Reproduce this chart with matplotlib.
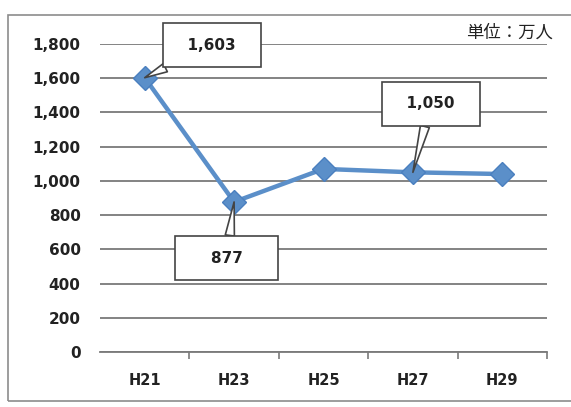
import matplotlib.pyplot as plt
from matplotlib.patches import Rectangle

# data
years = ['H21', 'H23', 'H25', 'H27', 'H29']
visitors = [1603, 877, 1070, 1050, 1040]
y_ticks = [0, 200, 400, 600, 800, 1000, 1200, 1400, 1600, 1800]
callouts = {0: '1,603', 1: '877', 3: '1,050'}

plt.rcParams['font.family'] = ['DejaVu Sans', 'Noto Sans CJK JP']

fig = plt.figure(figsize=(5.71, 4.07), dpi=100)
fig.patch.set_facecolor('white')
# outer chart frame
fig.patches.append(Rectangle((8 / 571, 1 - 401 / 407), 570 / 571, 386 / 407,
                             transform=fig.transFigure, fill=False,
                             ec='#8c8c8c', lw=1.2))

ax = fig.add_axes([100 / 571, 1 - 352 / 407, 447 / 571, 308 / 407])
x = list(range(len(years)))
ax.plot(x, visitors, color='#5b8fc9', lw=3.2, marker='D', ms=12.5,
        mfc='#5b8fc9', mec='#4a7fbf', zorder=3)

ax.set_xlim(-0.5, len(years) - 0.5)
ax.set_ylim(0, 1800)
ax.set_yticks(y_ticks)
ax.set_yticklabels([f'{v:,}' for v in y_ticks], fontsize=11, fontweight='bold',
                   color='#222222')
ax.yaxis.grid(True, color='#7a7a7a', lw=1.3)
ax.set_axisbelow(True)
ax.tick_params(axis='y', length=0, pad=14)

# category boundaries as tick marks
ax.set_xticks([i + 0.5 for i in x[:-1]] + [len(years) - 0.5], minor=False)
ax.set_xticklabels([])
ax.set_xticks(x, minor=True)
ax.set_xticklabels(years, minor=True, fontsize=10.5, fontweight='bold', color='#222222')
ax.tick_params(axis='x', which='major', direction='out', length=5,
               color='#7a7a7a', width=1.2)
ax.tick_params(axis='x', which='minor', length=0, pad=15)

for side in ['top', 'right', 'left']:
    ax.spines[side].set_visible(False)
ax.spines['bottom'].set_color('#7a7a7a')
ax.spines['bottom'].set_linewidth(1.3)

# callout boxes
box_pos = {0: (0.75, 1794), 1: (0.92, 549), 3: (3.2, 1450)}
pads = {0: '  ', 1: '    ', 3: '  '}
for i, label in callouts.items():
    ax.annotate(pads[i] + label + pads[i], xy=(i, visitors[i]), xytext=box_pos[i],
                ha='center', va='center', fontsize=11, fontweight='bold',
                color='#222222', annotation_clip=False, zorder=5,
                bbox=dict(boxstyle='square,pad=0.95', fc='white', ec='#444444', lw=1.2),
                arrowprops=dict(arrowstyle='wedge,tail_width=0.6,shrink_factor=0.5',
                                fc='white', ec='#444444', lw=1.2,
                                shrinkA=0, shrinkB=0))

fig.text(553 / 571, 1 - 33 / 407, '単位：万人', ha='right', va='center',
         fontsize=12.5, family=['Noto Sans CJK JP', 'DejaVu Sans'], color='#222222')

fig.savefig('out.png', dpi=100)
